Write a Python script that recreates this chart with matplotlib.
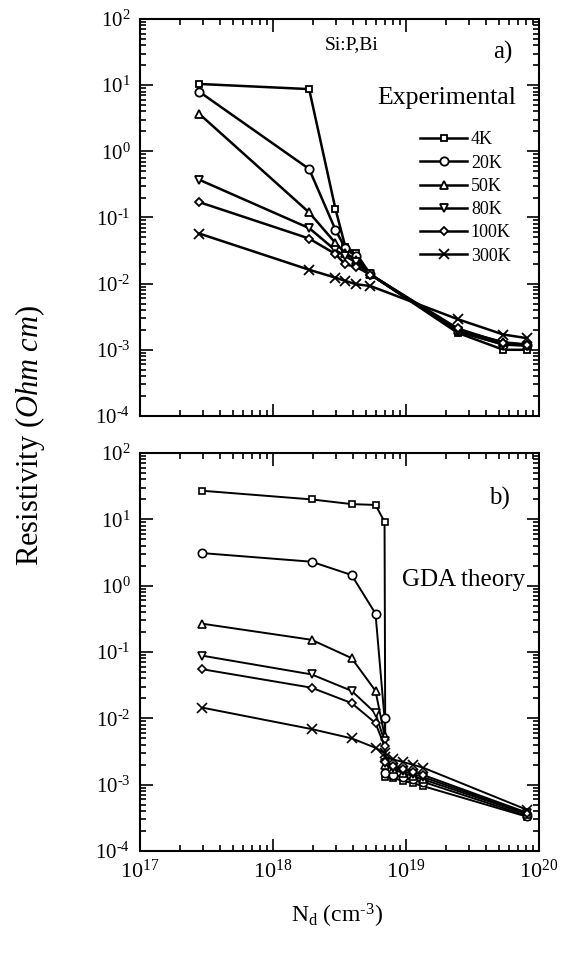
import matplotlib
matplotlib.use('Agg')
import matplotlib.pyplot as plt
from matplotlib.ticker import LogLocator, NullFormatter

plt.rcParams['font.family'] = ['Liberation Serif', 'DejaVu Serif']
plt.rcParams['mathtext.fontset'] = 'custom'
plt.rcParams['mathtext.rm'] = 'Liberation Serif'
plt.rcParams['mathtext.it'] = 'Liberation Serif:italic'

labels = ['4K', '20K', '50K', '80K', '100K', '300K']
markers = ['s', 'o', '^', 'v', 'D', 'x']
msizes = [4, 6, 6, 6, 4.5, 6.5]

# a) experimental
nd_exp = [2.8e17, 1.87e18, 2.95e18, 3.5e18, 4.2e18, 5.4e18, 2.45e19, 5.4e19, 8.1e19]
rho_exp = {
    '4K':   [10.4, 8.7, 0.134, 0.036, 0.029, 0.0138, 1.8e-3, 1.0e-3, 1.0e-3],
    '20K':  [7.9, 0.54, 0.065, 0.034, 0.026, 0.0138, 1.9e-3, 1.2e-3, 1.2e-3],
    '50K':  [3.65, 0.119, 0.041, 0.029, 0.023, 0.0138, 2.0e-3, 1.3e-3, 1.2e-3],
    '80K':  [0.37, 0.069, 0.032, 0.026, 0.021, 0.0138, 1.9e-3, 1.2e-3, 1.15e-3],
    '100K': [0.17, 0.048, 0.028, 0.0195, 0.018, 0.0137, 2.1e-3, 1.25e-3, 1.2e-3],
    '300K': [0.057, 0.0162, 0.0123, 0.011, 0.0098, 0.0092, 2.9e-3, 1.7e-3, 1.5e-3],
}

# b) GDA theory
nd_th = [2.95e17, 1.95e18, 3.9e18, 5.9e18, 6.9e18, 7.0e18, 8.0e18, 9.5e18, 1.13e19, 1.35e19, 8.1e19]
rho_th = {
    '4K':   [27, 20, 17, 16.5, 9.2, 1.3e-3, 1.25e-3, 1.15e-3, 1.05e-3, 9.5e-4, 3.3e-4],
    '20K':  [3.1, 2.3, 1.45, 0.38, 0.0100, 1.5e-3, 1.4e-3, 1.3e-3, 1.2e-3, 1.1e-3, 3.4e-4],
    '50K':  [0.267, 0.153, 0.081, 0.026, 5.5e-3, 2.0e-3, 1.7e-3, 1.5e-3, 1.35e-3, 1.2e-3, 3.6e-4],
    '80K':  [0.088, 0.046, 0.026, 0.012, 4.5e-3, 2.1e-3, 1.8e-3, 1.6e-3, 1.45e-3, 1.3e-3, 3.7e-4],
    '100K': [0.055, 0.029, 0.017, 8.5e-3, 3.8e-3, 2.2e-3, 1.9e-3, 1.7e-3, 1.55e-3, 1.4e-3, 3.8e-4],
    '300K': [0.0145, 6.9e-3, 5.0e-3, 3.6e-3, 3.0e-3, 2.6e-3, 2.4e-3, 2.2e-3, 2.0e-3, 1.8e-3, 4.2e-4],
}

ytick_vals = [1e-4, 1e-3, 1e-2, 1e-1, 1e0, 1e1, 1e2]
ytick_labels = [r'10$^{\text{-4}}$', r'10$^{\text{-3}}$', r'10$^{\text{-2}}$', r'10$^{\text{-1}}$',
                '10$^{0}$', '10$^{1}$', '10$^{2}$']
xtick_vals = [1e17, 1e18, 1e19, 1e20]
xtick_labels = ['10$^{17}$', '10$^{18}$', '10$^{19}$', '10$^{20}$']

fig = plt.figure(figsize=(5.77, 9.56), dpi=100)
ax1 = fig.add_axes([0.2426, 0.5649, 0.6915, 0.4153])
ax2 = fig.add_axes([0.2426, 0.1098, 0.6915, 0.4163])


def style_axis(ax):
    ax.set_xscale('log')
    ax.set_yscale('log')
    ax.set_xlim(1e17, 1e20)
    ax.set_ylim(1e-4, 1e2)
    ax.set_yticks(ytick_vals)
    ax.set_yticklabels(ytick_labels, fontsize=15)
    ax.yaxis.set_minor_locator(LogLocator(base=10, subs=range(2, 10), numticks=20))
    ax.xaxis.set_minor_locator(LogLocator(base=10, subs=range(2, 10), numticks=20))
    ax.yaxis.set_minor_formatter(NullFormatter())
    ax.xaxis.set_minor_formatter(NullFormatter())
    ax.tick_params(which='both', direction='in', top=True, right=True, width=1.2)
    ax.tick_params(which='major', length=9)
    ax.tick_params(which='minor', length=4.5)
    ax.tick_params(axis='y', pad=7)
    for s in ax.spines.values():
        s.set_linewidth(1.5)


for lab, m, ms in zip(labels, markers, msizes):
    ax1.plot(nd_exp, rho_exp[lab], color='black', lw=1.8, marker=m, ms=ms,
             mfc='white', mec='black', mew=1.3, label=lab)
    ax2.plot(nd_th, rho_th[lab], color='black', lw=1.4, marker=m, ms=ms,
             mfc='white', mec='black', mew=1.2)

style_axis(ax1)
style_axis(ax2)
ax1.set_xticks(xtick_vals)
ax1.set_xticklabels([])
ax2.set_xticks(xtick_vals)
ax2.set_xticklabels(xtick_labels, fontsize=16)
ax2.tick_params(axis='x', pad=6)

ax1.text(0.53, 0.935, 'Si:P,Bi', transform=ax1.transAxes, fontsize=14, ha='center', va='center')
ax1.text(0.91, 0.915, 'a)', transform=ax1.transAxes, fontsize=18, ha='center', va='center')
ax1.text(0.77, 0.80, 'Experimental', transform=ax1.transAxes, fontsize=18.5, ha='center', va='center')
ax1.legend(loc='upper left', bbox_to_anchor=(0.68, 0.74), frameon=False, fontsize=13,
           handlelength=2.6, handletextpad=0.2, labelspacing=0.35, borderpad=0)

ax2.text(0.90, 0.885, 'b)', transform=ax2.transAxes, fontsize=18, ha='center', va='center')
ax2.text(0.81, 0.68, 'GDA theory', transform=ax2.transAxes, fontsize=18, ha='center', va='center')

fig.text(0.052, 0.545, r'Resistivity $\mathit{(Ohm\ cm)}$', rotation=90, fontsize=22,
         ha='center', va='center')
fig.text(0.585, 0.042, r'N$_\mathrm{d}$ (cm$^{\text{-3}}$)', fontsize=17, ha='center', va='center')

fig.savefig('out.png', dpi=100)
